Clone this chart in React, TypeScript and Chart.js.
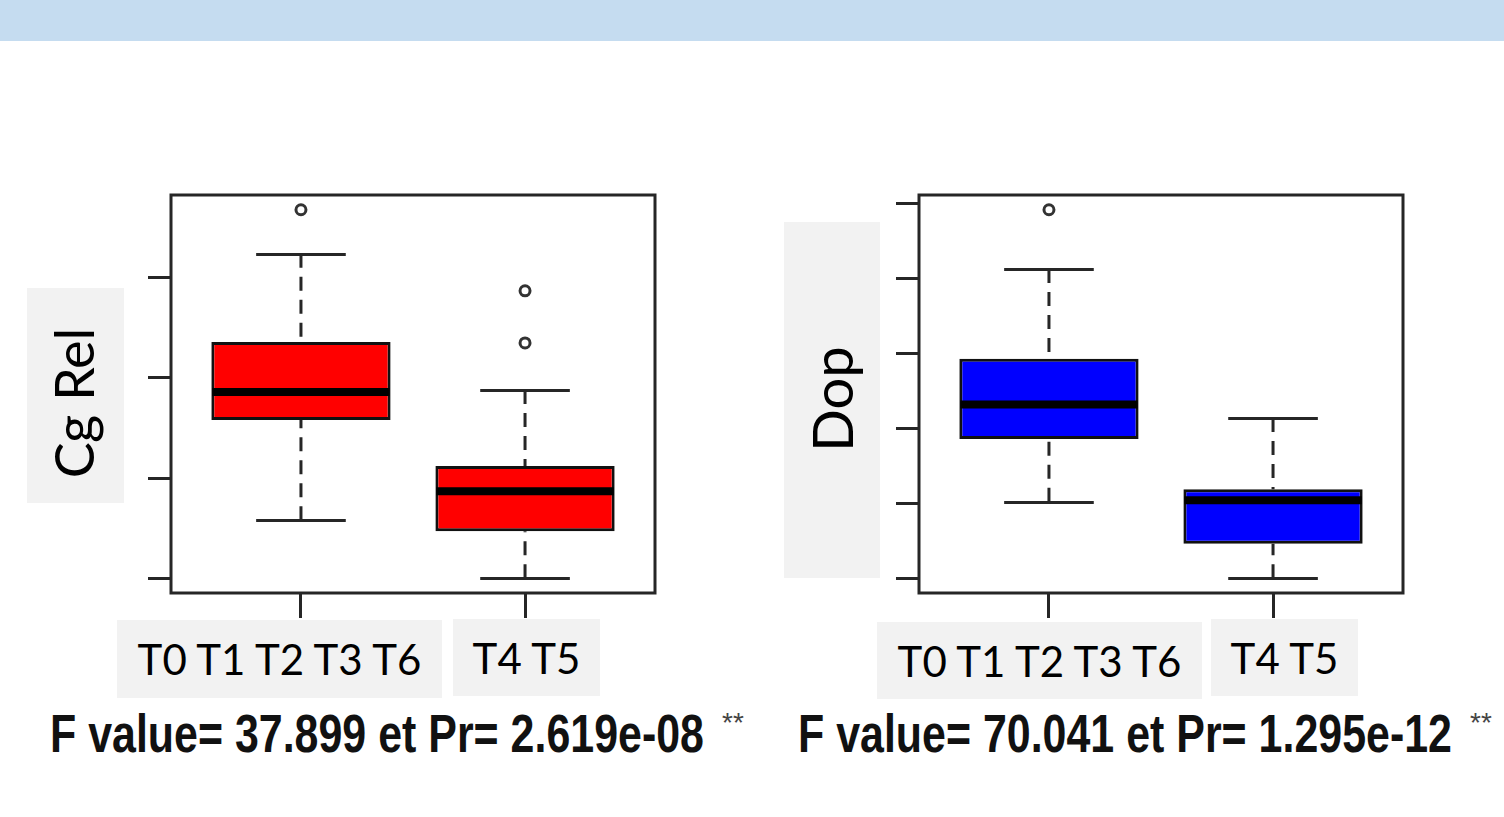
import React, { useEffect, useRef } from "react";
import { Chart, registerables } from "chart.js";

Chart.register(...registerables);

// ---------- data ----------
const categories = ["T0 T1 T2 T3 T6", "T4 T5"];
const categoryPositions = [1, 2];

// Cg Rel (left panel)
const cgLowerWhisker = [0.58, 0.0];
const cgQ1 = [1.58, 0.47];
const cgMedian = [1.86, 0.87];
const cgQ3 = [2.36, 1.12];
const cgUpperWhisker = [3.24, 1.88];
const cgOutliers = [[3.68], [2.87, 2.35]];
const cgTicks = [0, 1, 2, 3];

// Dop (right panel)
const dopLowerWhisker = [1.02, 0.0];
const dopQ1 = [1.86, 0.46];
const dopMedian = [2.32, 1.04];
const dopQ3 = [2.93, 1.19];
const dopUpperWhisker = [4.13, 2.14];
const dopOutliers = [[4.92], []];
const dopTicks = [0, 1, 2, 3, 4, 5];

const yTitles = ["Cg Rel", "Dop"];
const fValues = ["37.899", "70.041"];
const pValues = ["2.619e-08", "1.295e-12"];
const signif = "**";

type Panel = {
  lower: number[];
  q1: number[];
  median: number[];
  q3: number[];
  upper: number[];
  outliers: number[][];
  ticks: number[];
  color: string;
};

const panels: Panel[] = [
  { lower: cgLowerWhisker, q1: cgQ1, median: cgMedian, q3: cgQ3, upper: cgUpperWhisker, outliers: cgOutliers, ticks: cgTicks, color: "#FF0000" },
  { lower: dopLowerWhisker, q1: dopQ1, median: dopMedian, q3: dopQ3, upper: dopUpperWhisker, outliers: dopOutliers, ticks: dopTicks, color: "#0000FF" },
];

const LINE = "#262626";

function makeChart(canvas: HTMLCanvasElement, p: Panel) {
  const allVals = [...p.lower, ...p.upper, ...p.outliers.flat()];
  const lo = Math.min(...allVals);
  const hi = Math.max(...allVals);
  const ext = (hi - lo) * 0.04;

  const boxPlugin = {
    id: "boxExtras",
    afterDatasetsDraw(chart: any) {
      const { ctx, chartArea } = chart;
      const x = chart.scales.x;
      const y = chart.scales.y;
      ctx.save();
      for (let i = 0; i < categoryPositions.length; i++) {
        const pos = categoryPositions[i];
        const cx = x.getPixelForValue(pos);
        const boxL = x.getPixelForValue(pos - 0.4);
        const boxR = x.getPixelForValue(pos + 0.4);
        const capL = x.getPixelForValue(pos - 0.2);
        const capR = x.getPixelForValue(pos + 0.2);
        // whiskers (dashed), drawn from extreme to hinge
        ctx.strokeStyle = LINE;
        ctx.lineWidth = 3;
        ctx.setLineDash([14, 9]);
        ctx.beginPath();
        ctx.moveTo(cx, y.getPixelForValue(p.upper[i]));
        ctx.lineTo(cx, y.getPixelForValue(p.q3[i]));
        ctx.moveTo(cx, y.getPixelForValue(p.lower[i]));
        ctx.lineTo(cx, y.getPixelForValue(p.q1[i]));
        ctx.stroke();
        // caps
        ctx.setLineDash([]);
        ctx.beginPath();
        const yu = Math.round(y.getPixelForValue(p.upper[i])) + 0.5;
        const yl = Math.round(y.getPixelForValue(p.lower[i])) + 0.5;
        ctx.moveTo(capL, yu);
        ctx.lineTo(capR, yu);
        ctx.moveTo(capL, yl);
        ctx.lineTo(capR, yl);
        ctx.stroke();
        // median
        ctx.strokeStyle = "#000";
        ctx.lineWidth = 8;
        ctx.beginPath();
        const ym = y.getPixelForValue(p.median[i]);
        ctx.moveTo(boxL + 1, ym);
        ctx.lineTo(boxR - 1, ym);
        ctx.stroke();
      }
      // frame
      ctx.strokeStyle = LINE;
      ctx.lineWidth = 3;
      ctx.strokeRect(chartArea.left, chartArea.top, chartArea.right - chartArea.left, chartArea.bottom - chartArea.top);
      ctx.restore();
    },
  };

  const outlierPoints: { x: number; y: number }[] = [];
  p.outliers.forEach((arr, i) => arr.forEach((v) => outlierPoints.push({ x: categoryPositions[i], y: v })));

  return new Chart(canvas, {
    type: "bar",
    data: {
      datasets: [
        {
          type: "bar",
          data: categoryPositions.map((pos, i) => ({ x: pos, y: [p.q1[i], p.q3[i]] })) as any,
          backgroundColor: p.color,
          borderColor: "#111",
          borderWidth: 3,
          borderSkipped: false,
          categoryPercentage: 0.8,
          barPercentage: 1.0,
        } as any,
        {
          type: "scatter",
          data: outlierPoints,
          pointRadius: 5,
          pointBorderWidth: 3,
          pointBorderColor: "#333",
          pointBackgroundColor: "#fff",
          showLine: false,
        } as any,
      ],
    },
    options: {
      animation: false,
      responsive: false,
      events: [],
      layout: { padding: { left: 8, top: 10, right: 15, bottom: 12 } },
      plugins: { legend: { display: false }, tooltip: { enabled: false } },
      scales: {
        x: {
          type: "linear",
          min: 0.42,
          max: 2.58,
          offset: false,
          afterBuildTicks: (s: any) => {
            s.ticks = categoryPositions.map((v) => ({ value: v }));
          },
          afterFit: (s: any) => {
            s.height = 25;
          },
          ticks: { display: false },
          grid: { offset: false, drawOnChartArea: false, drawTicks: true, tickLength: 25, tickWidth: 3, tickColor: LINE },
          border: { display: false },
        },
        y: {
          type: "linear",
          min: lo - ext,
          max: hi + ext,
          afterBuildTicks: (s: any) => {
            s.ticks = p.ticks.map((v) => ({ value: v }));
          },
          afterFit: (s: any) => {
            s.width = 23;
          },
          ticks: { display: false },
          grid: { drawOnChartArea: false, drawTicks: true, tickLength: 23, tickWidth: 3, tickColor: LINE },
          border: { display: false },
        },
      },
    } as any,
    plugins: [boxPlugin],
  });
}

function BoxChart({ panel, left }: { panel: Panel; left: number }) {
  const ref = useRef<HTMLCanvasElement>(null);
  useEffect(() => {
    if (!ref.current) return;
    const c = makeChart(ref.current, panel);
    return () => c.destroy();
  }, []);
  return (
    <canvas
      ref={ref}
      width={530}
      height={445}
      style={{ position: "absolute", left, top: 185, width: 530, height: 445 }}
    />
  );
}

const gray = "#F2F2F2";
const labelFont = "Lato, 'Open Sans', sans-serif";

function GrayLabel({ x, y, w, h, text }: { x: number; y: number; w: number; h: number; text: string }) {
  return (
    <div
      style={{
        position: "absolute",
        left: x,
        top: y,
        width: w,
        height: h,
        background: gray,
        display: "flex",
        alignItems: "center",
        justifyContent: "center",
        fontFamily: labelFont,
        fontSize: 42,
        color: "#000",
        whiteSpace: "nowrap",
      }}
    >
      {text}
    </div>
  );
}

function YTitle({ x, y, w, h, cx, cy, size, text }: { x: number; y: number; w: number; h: number; cx: number; cy: number; size: number; text: string }) {
  return (
    <>
      <div style={{ position: "absolute", left: x, top: y, width: w, height: h, background: gray }} />
      <div
        style={{
          position: "absolute",
          left: cx,
          top: cy,
          transform: "translate(-50%, -50%) rotate(-90deg)",
          fontFamily: labelFont,
          fontSize: size,
          lineHeight: "normal",
          whiteSpace: "nowrap",
          color: "#000",
        }}
      >
        {text}
      </div>
    </>
  );
}

function StatText({ x, sx, i }: { x: number; sx: number; i: number }) {
  return (
    <>
      <div
        style={{
          position: "absolute",
          left: x,
          top: 707,
          fontFamily: "'Liberation Sans', Arial, sans-serif",
          fontWeight: "bold",
          fontSize: 53,
          lineHeight: 1,
          whiteSpace: "nowrap",
          color: "#111",
          transform: "scaleX(0.81)",
          transformOrigin: "0 0",
        }}
      >
        {`F value= ${fValues[i]} et Pr= ${pValues[i]}`}
      </div>
      <div
        style={{
          position: "absolute",
          left: sx,
          top: 709,
          fontFamily: "'Liberation Sans', Arial, sans-serif",
          fontSize: 28,
          lineHeight: 1,
          color: "#444",
          whiteSpace: "nowrap",
        }}
      >
        {signif}
      </div>
    </>
  );
}

export default function App() {
  return (
    <div style={{ position: "absolute", left: 0, top: 0, width: 1504, height: 817, background: "#fff", overflow: "hidden" }}>
      <div style={{ position: "absolute", left: 0, top: 0, width: 1504, height: 41, background: "#C5DCF0" }} />
      <BoxChart panel={panels[0]} left={140} />
      <BoxChart panel={panels[1]} left={888} />
      <YTitle x={27} y={288} w={97} h={215} cx={73} cy={403} size={54} text={yTitles[0]} />
      <YTitle x={784} y={222} w={96} h={356} cx={831} cy={399} size={56} text={yTitles[1]} />
      <GrayLabel x={117} y={620} w={325} h={78} text={categories[0]} />
      <GrayLabel x={453} y={619} w={147} h={77} text={categories[1]} />
      <GrayLabel x={877} y={622} w={325} h={77} text={categories[0]} />
      <GrayLabel x={1211} y={619} w={147} h={77} text={categories[1]} />
      <StatText x={50} sx={722} i={0} />
      <StatText x={798} sx={1470} i={1} />
    </div>
  );
}
